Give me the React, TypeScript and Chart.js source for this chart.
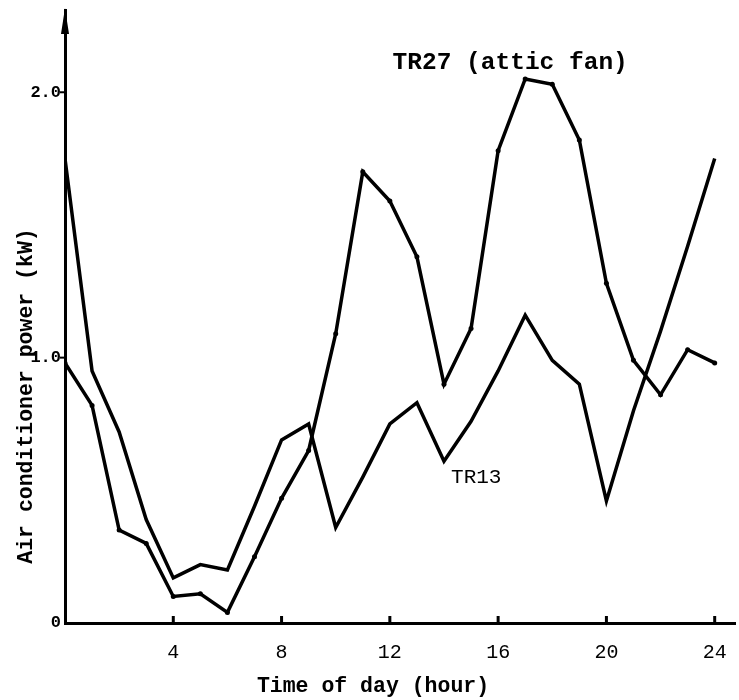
import React, { useEffect, useRef } from "react";
import { Chart, registerables } from "chart.js";

Chart.register(...registerables);

const hours = [0,1,2,3,4,5,6,7,8,9,10,11,12,13,14,15,16,17,18,19,20,21,22,23,24];
const tr27 = [0.98,0.82,0.35,0.30,0.10,0.11,0.04,0.25,0.47,0.65,1.09,1.70,1.59,1.38,0.90,1.11,1.78,2.05,2.03,1.82,1.28,0.99,0.86,1.03,0.98];
const tr13 = [1.75,0.95,0.72,0.39,0.17,0.22,0.20,0.44,0.69,0.75,0.36,0.55,0.75,0.83,0.61,0.76,0.95,1.16,0.99,0.90,0.46,0.80,1.10,1.42,1.75];
const xTicks = [4,8,12,16,20,24];
const yTicks = [0,1,2];
const tr27Label = "TR27 (attic fan)";
const tr13Label = "TR13";
const xTitle = "Time of day (hour)";
const yTitle = "Air conditioner power (kW)";

const MONO = '"Liberation Mono", "DejaVu Sans Mono", monospace';

const decorPlugin = {
  id: "decor",
  afterDraw(chart: any) {
    const { ctx, chartArea, scales } = chart;
    const xs = scales.x, ys = scales.y;
    ctx.save();
    ctx.fillStyle = "#000";
    ctx.strokeStyle = "#000";
    ctx.lineWidth = 3;
    xTicks.forEach((t) => {
      const px = xs.getPixelForValue(t);
      ctx.beginPath();
      ctx.moveTo(px, chartArea.bottom);
      ctx.lineTo(px, chartArea.bottom - 7);
      ctx.stroke();
    });
    [1, 2].forEach((t) => {
      const py = ys.getPixelForValue(t);
      ctx.beginPath();
      ctx.lineWidth = 2;
      ctx.moveTo(chartArea.left - 5, py);
      ctx.lineTo(chartArea.left, py);
      ctx.stroke();
    });
    const ax = chartArea.left;
    const ay = chartArea.top;
    ctx.beginPath();
    ctx.moveTo(ax, ay - 2);
    ctx.lineTo(ax - 4, ay + 24);
    ctx.lineTo(ax + 4, ay + 24);
    ctx.closePath();
    ctx.fill();
    ctx.textBaseline = "middle";
    ctx.textAlign = "left";
    ctx.font = "bold 24.5px " + MONO;
    ctx.fillText(tr27Label, xs.getPixelForValue(12.1), ys.getPixelForValue(2.11));
    ctx.font = "21px " + MONO;
    ctx.fillText(tr13Label, xs.getPixelForValue(14.26), ys.getPixelForValue(0.55));
    ctx.font = "bold 21.5px " + MONO;
    ctx.textAlign = "center";
    ctx.fillText(xTitle, 373, chartArea.bottom + 64);
    ctx.save();
    ctx.translate(chartArea.left - 38, 396);
    ctx.rotate(-Math.PI / 2);
    ctx.fillText(yTitle, 0, 0);
    ctx.restore();
    ctx.restore();
  },
};

export default function App() {
  const ref = useRef<HTMLCanvasElement | null>(null);
  useEffect(() => {
    if (!ref.current) return;
    const chart = new Chart(ref.current, {
      type: "line",
      data: {
        datasets: [
          {
            label: tr27Label,
            data: hours.map((h, i) => ({ x: h, y: tr27[i] })),
            borderColor: "#000",
            backgroundColor: "#000",
            borderWidth: 3.5,
            pointRadius: 2.5,
            pointBorderWidth: 0,
            tension: 0,
          },
          {
            label: tr13Label,
            data: hours.map((h, i) => ({ x: h, y: tr13[i] })),
            borderColor: "#000",
            backgroundColor: "#000",
            borderWidth: 3.5,
            pointRadius: 0,
            tension: 0,
          },
        ],
      },
      options: {
        responsive: false,
        animation: false,
        layout: { padding: { top: 10, right: 0, left: 0, bottom: 0 } },
        plugins: { legend: { display: false }, tooltip: { enabled: false } },
        scales: {
          x: {
            type: "linear",
            min: 0,
            max: 24.75,
            grid: { display: false, drawTicks: false },
            border: { display: true, color: "#000", width: 3 },
            afterBuildTicks: (s: any) => {
              s.ticks = xTicks.map((v) => ({ value: v }));
            },
            afterFit: (s: any) => {
              s.height = 77;
              s.paddingLeft = 0;
              s.paddingRight = 0;
            },
            ticks: {
              color: "#000",
              padding: 18,
              maxRotation: 0,
              autoSkip: false,
              font: { family: MONO, size: 20 },
              callback: (v: any) => String(v),
            },
          },
          y: {
            type: "linear",
            min: 0,
            max: 2.31,
            grid: { display: false, drawTicks: false },
            border: { display: true, color: "#000", width: 3 },
            afterBuildTicks: (s: any) => {
              s.ticks = yTicks.map((v) => ({ value: v }));
            },
            afterFit: (s: any) => {
              s.width = 65;
              s.paddingTop = 0;
              s.paddingBottom = 0;
            },
            ticks: {
              color: "#000",
              padding: 4,
              autoSkip: false,
              font: { family: MONO, size: 17, weight: "bold" },
              callback: (v: any) => (v === 0 ? "0" : Number(v).toFixed(1)),
            },
          },
        },
      },
      plugins: [decorPlugin],
    } as any);
    return () => chart.destroy();
  }, []);
  return (
    <div style={{ position: "absolute", left: 0, top: 0, width: 739, height: 700, background: "#fff" }}>
      <canvas ref={ref} width={739} height={700} />
    </div>
  );
}
